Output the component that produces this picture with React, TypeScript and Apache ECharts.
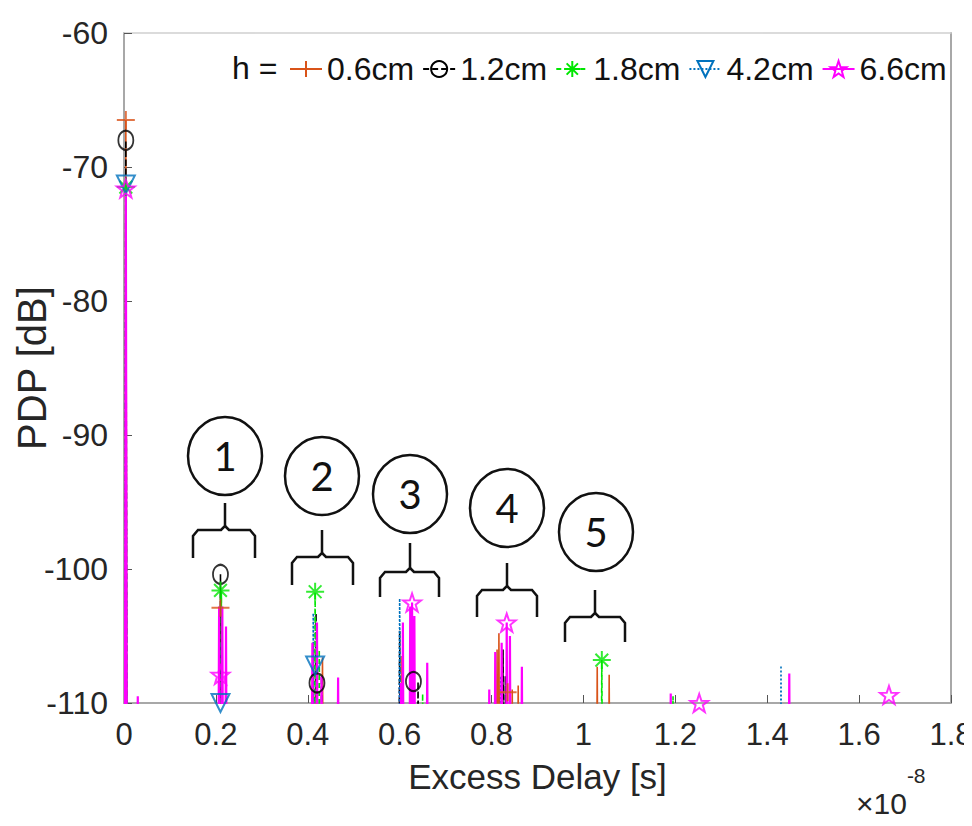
import React, { useEffect, useRef } from "react";
import * as echarts from "echarts";

// Excess delay in units of 1e-8 s, PDP in dB: [delay, peak]
const seriesNames = ["0.6cm", "1.2cm", "1.8cm", "4.2cm", "6.6cm"];
const seriesColors = ["#D95319", "#000000", "#00E600", "#0072BD", "#FF00FF"];

const taps06 = [[0.004, -66.5], [0.208, -103], [0.213, -103], [0.412, -105.5], [0.418, -106], [0.432, -106.6], [0.605, -106.5], [0.63, -107], [0.812, -106], [0.816, -104.8], [0.845, -109], [0.858, -108.7], [1.03, -107.3], [1.056, -107.9]];
const taps12 = [[0.004, -68], [0.21, -100.4], [0.418, -103.3], [0.43, -108], [0.6, -104.6], [0.64, -108.4], [0.825, -106], [0.83, -108]];
const taps18 = [[0.004, -71.5], [0.212, -101.6], [0.416, -101.7], [0.425, -106], [0.63, -109], [0.65, -109.3], [0.84, -109], [1.04, -106.8], [1.195, -109.5]];
const taps42 = [[0.004, -71.3], [0.208, -105.5], [0.412, -103.3], [0.42, -107.2], [0.6, -102.2], [0.82, -108], [1.43, -107.2]];
const taps66 = [[0.004, -71.6], [0.03, -109.5], [0.207, -102.8], [0.214, -102.8], [0.222, -104.3], [0.41, -105.5], [0.42, -104], [0.43, -108], [0.466, -108.1], [0.603, -108.5], [0.607, -104], [0.623, -102.8], [0.627, -102.5], [0.632, -103.5], [0.66, -107], [0.795, -109], [0.808, -106.2], [0.822, -105.5], [0.833, -104], [0.84, -105], [0.866, -107.3], [1.19, -109.3], [1.448, -107.8]];

const marks06 = [[0.004, -66.5], [0.21, -102.9], [0.835, -109.2]];
const marks12 = [[0.004, -68], [0.21, -100.4], [0.42, -108.5], [0.63, -108.4]];
const marks18 = [[0.004, -71.5], [0.21, -101.6], [0.416, -101.7], [1.04, -106.8]];
const marks42 = [[0.004, -71.3], [0.21, -110], [0.416, -107.2]];
const marks66 = [[0.004, -71.6], [0.21, -107.9], [0.627, -102.5], [0.833, -104], [1.252, -110], [1.665, -109.4]];

const xTicks = [0, 0.2, 0.4, 0.6, 0.8, 1, 1.2, 1.4, 1.6, 1.8];
const yTicks = [-110, -100, -90, -80, -70, -60];
const clusterLabels = ["1", "2", "3", "4", "5"];

const FLOOR = -125;
const HALF_W = 0.0025;

function spikes(taps: number[][]) {
  const pts: number[][] = [];
  taps.forEach(([d, p]) => {
    pts.push([d - HALF_W, FLOOR]);
    pts.push([d, p]);
    pts.push([d + HALF_W, FLOOR]);
  });
  return pts;
}

function starPath() {
  let s = "path://";
  for (let i = 0; i < 10; i++) {
    const r = i % 2 === 0 ? 10 : 4;
    const a = -Math.PI / 2 + (i * Math.PI) / 5;
    s += (i === 0 ? "M" : "L") + (r * Math.cos(a)).toFixed(3) + "," + (r * Math.sin(a)).toFixed(3);
  }
  return s + "Z";
}

const symbols = [
  "path://M0,-10L0,10M-10,0L10,0",
  "circle",
  "path://M0,-10L0,10M-10,0L10,0M-7.07,-7.07L7.07,7.07M-7.07,7.07L7.07,-7.07",
  "triangle",
  starPath(),
];
const rotations = [0, 0, 0, 180, 0];
const lineTypes: any[] = ["solid", [6, 3], [5, 3], [2, 2], "solid"];
const lineWidths = [1.6, 1.6, 1.6, 1.6, 2.2];

const FONT = "Liberation Sans, Arial, Helvetica, sans-serif";

export default function App() {
  const ref = useRef<HTMLDivElement>(null);
  useEffect(() => {
    if (!ref.current) return;
    const chart = echarts.init(ref.current, null, { renderer: "svg" });
    const allTaps = [taps06, taps12, taps18, taps42, taps66];
    const allMarks = [marks06, marks12, marks18, marks42, marks66];

    const series: any[] = [];
    seriesNames.forEach((name, i) => {
      series.push({
        type: "line",
        name,
        data: spikes(allTaps[i]),
        showSymbol: false,
        symbol: symbols[i],
        symbolRotate: rotations[i],
        symbolSize: 18,
        itemStyle: { color: "rgba(0,0,0,0)", borderColor: seriesColors[i], borderWidth: 2 },
        lineStyle: { color: seriesColors[i], width: lineWidths[i], type: lineTypes[i] },
        clip: true,
        z: 2 + i,
      });
    });
    seriesNames.forEach((name, i) => {
      series.push({
        type: "scatter",
        name: "m" + name,
        data: allMarks[i],
        symbol: symbols[i],
        symbolRotate: rotations[i],
        symbolSize: i === 1 ? [15, 19] : 18,
        itemStyle: { color: "rgba(0,0,0,0)", borderColor: seriesColors[i], borderWidth: 2 },
        clip: false,
        z: 10 + i,
      });
    });

    const circles = [
      [225, 456], [322, 476], [410, 494], [507, 508], [596, 532],
    ];
    const braces = [
      [193, 255, 225, 503, 530, 558],
      [292, 353, 322, 530, 557, 585],
      [380, 439, 410, 543, 572, 597],
      [477, 537, 507, 563, 590, 617],
      [565, 625, 595, 590, 617, 642],
    ];
    const graphics: any[] = [];
    circles.forEach(([cx, cy], i) => {
      graphics.push({
        type: "ellipse",
        shape: { cx, cy, rx: 37, ry: 39 },
        style: { fill: "none", stroke: "#111", lineWidth: 2.5 },
        z: 100,
      });
      graphics.push({
        type: "text",
        x: cx,
        y: cy,
        style: {
          text: clusterLabels[i],
          font: "40px Lato, 'Open Sans', sans-serif",
          fill: "#111",
          align: "center",
          verticalAlign: "middle",
        },
        z: 100,
      });
    });
    braces.forEach(([xl, xr, xc, ys, yh, yb]) => {
      graphics.push({
        type: "polyline",
        shape: { points: [[xl, yb], [xl, yh + 6], [xl + 5, yh], [xc - 4, yh], [xc, yh - 4], [xc, ys]] },
        style: { fill: "none", stroke: "#111", lineWidth: 2.5 },
        z: 100,
      });
      graphics.push({
        type: "polyline",
        shape: { points: [[xr, yb], [xr, yh + 6], [xr - 5, yh], [xc + 4, yh], [xc, yh - 4]] },
        style: { fill: "none", stroke: "#111", lineWidth: 2.5 },
        z: 100,
      });
    });
    graphics.push({
      type: "text",
      x: 232,
      y: 68,
      style: { text: "h =", font: "32px " + FONT, fill: "#111", verticalAlign: "middle" },
      z: 100,
    });
    graphics.push({
      type: "text",
      x: 856,
      y: 818,
      style: {
        text: "{a|×10}{b|-8}",
        rich: {
          a: { fontSize: 30, fontFamily: FONT, fill: "#262626", verticalAlign: "bottom" },
          b: { fontSize: 21, fontFamily: FONT, fill: "#262626", padding: [0, 0, 32, 0] },
        },
        verticalAlign: "bottom",
      },
      z: 100,
    });

    const axisGray = "#A8A8A8";
    chart.setOption({
      animation: false,
      backgroundColor: "#fff",
      grid: { left: 124, right: 21, top: 33, bottom: 123, containLabel: false, outerBoundsMode: "none" },
      legend: {
        data: seriesNames,
        left: 284,
        top: 48,
        itemWidth: 32,
        itemHeight: 20,
        itemGap: 8,
        textStyle: { fontSize: 32, fontFamily: FONT, color: "#111" },
      },
      xAxis: [
        {
          type: "value",
          min: 0,
          max: 1.8,
          interval: 0.2,
          name: "Excess Delay [s]",
          nameLocation: "middle",
          nameGap: 56,
          nameTextStyle: { fontSize: 35, fontFamily: FONT, color: "#262626" },
          axisLine: { onZero: false, lineStyle: { color: axisGray, width: 2 } },
          axisTick: { inside: true, length: 8, lineStyle: { color: "#555" } },
          axisLabel: {
            fontSize: 31,
            fontFamily: FONT,
            color: "#262626",
            margin: 16,
            formatter: (v: number) => String(+v.toFixed(1)),
          },
          splitLine: { show: false },
        },
        {
          type: "value",
          position: "top",
          min: 0,
          max: 1.8,
          axisLine: { onZero: false, lineStyle: { color: "#D0D0D0", width: 1.5 } },
          axisTick: { show: false },
          axisLabel: { show: false },
          splitLine: { show: false },
        },
      ],
      yAxis: [
        {
          type: "value",
          min: -110,
          max: -60,
          interval: 10,
          name: "PDP [dB]",
          nameLocation: "middle",
          nameGap: 72,
          nameMoveOverlap: false,
          nameTextStyle: { fontSize: 40, fontFamily: FONT, color: "#262626" },
          axisLine: { onZero: false, lineStyle: { color: axisGray, width: 2 } },
          axisTick: { inside: true, length: 8, lineStyle: { color: "#555" } },
          axisLabel: { fontSize: 32, fontFamily: FONT, color: "#262626", margin: 16 },
          splitLine: { show: false },
        },
        {
          type: "value",
          position: "right",
          min: -110,
          max: -60,
          axisLine: { show: true, onZero: false, lineStyle: { color: axisGray, width: 2 } },
          axisTick: { show: false },
          axisLabel: { show: false },
          splitLine: { show: false },
        },
      ],
      series,
      graphic: graphics,
    });
    return () => chart.dispose();
  }, []);
  return <div ref={ref} style={{ width: 972, height: 826, margin: -8 }} />;
}
